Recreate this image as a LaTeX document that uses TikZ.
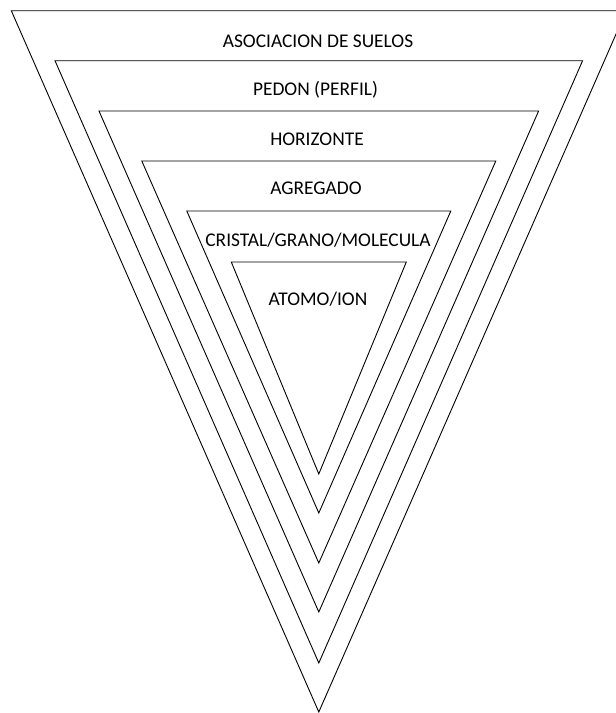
\documentclass[tikz,border=0pt]{standalone}
\usepackage{fontspec}
\setmainfont{Carlito}
\begin{document}
\begin{tikzpicture}[x=1pt,y=-1pt,
  tri/.style={draw=black,line width=0.9pt,line join=miter},
  lbl/.style={font=\fontsize{19.4}{22}\selectfont,inner sep=0pt,anchor=center}]
\useasboundingbox (0,0) rectangle (616,713);
\clip (0,0) rectangle (616,713);
\def\cx{318.8}
\foreach \t/\w/\a in {10.7/307.5/712, 60.7/263.8/663, 111/219.8/612, 161/177/563, 211/132/513, 262/87.5/474}{
  \draw[tri] (\cx-\w,\t) -- (\cx+\w,\t) -- (\cx,\a) -- cycle;
}
\node[lbl] (l1) at (318,41) {ASOCIACION DE SUELOS};
\node[lbl] (l2) at (315.5,90) {PEDON (PERFIL)};
\node[lbl] (l3) at (317,139) {HORIZONTE};
\node[lbl] (l4) at (316,188) {AGREGADO};
\node[lbl] (l5) at (318,240) {CRISTAL/GRANO/MOLECULA};
\node[lbl] (l6) at (318,299) {ATOMO/ION};
\end{tikzpicture}
\end{document}
